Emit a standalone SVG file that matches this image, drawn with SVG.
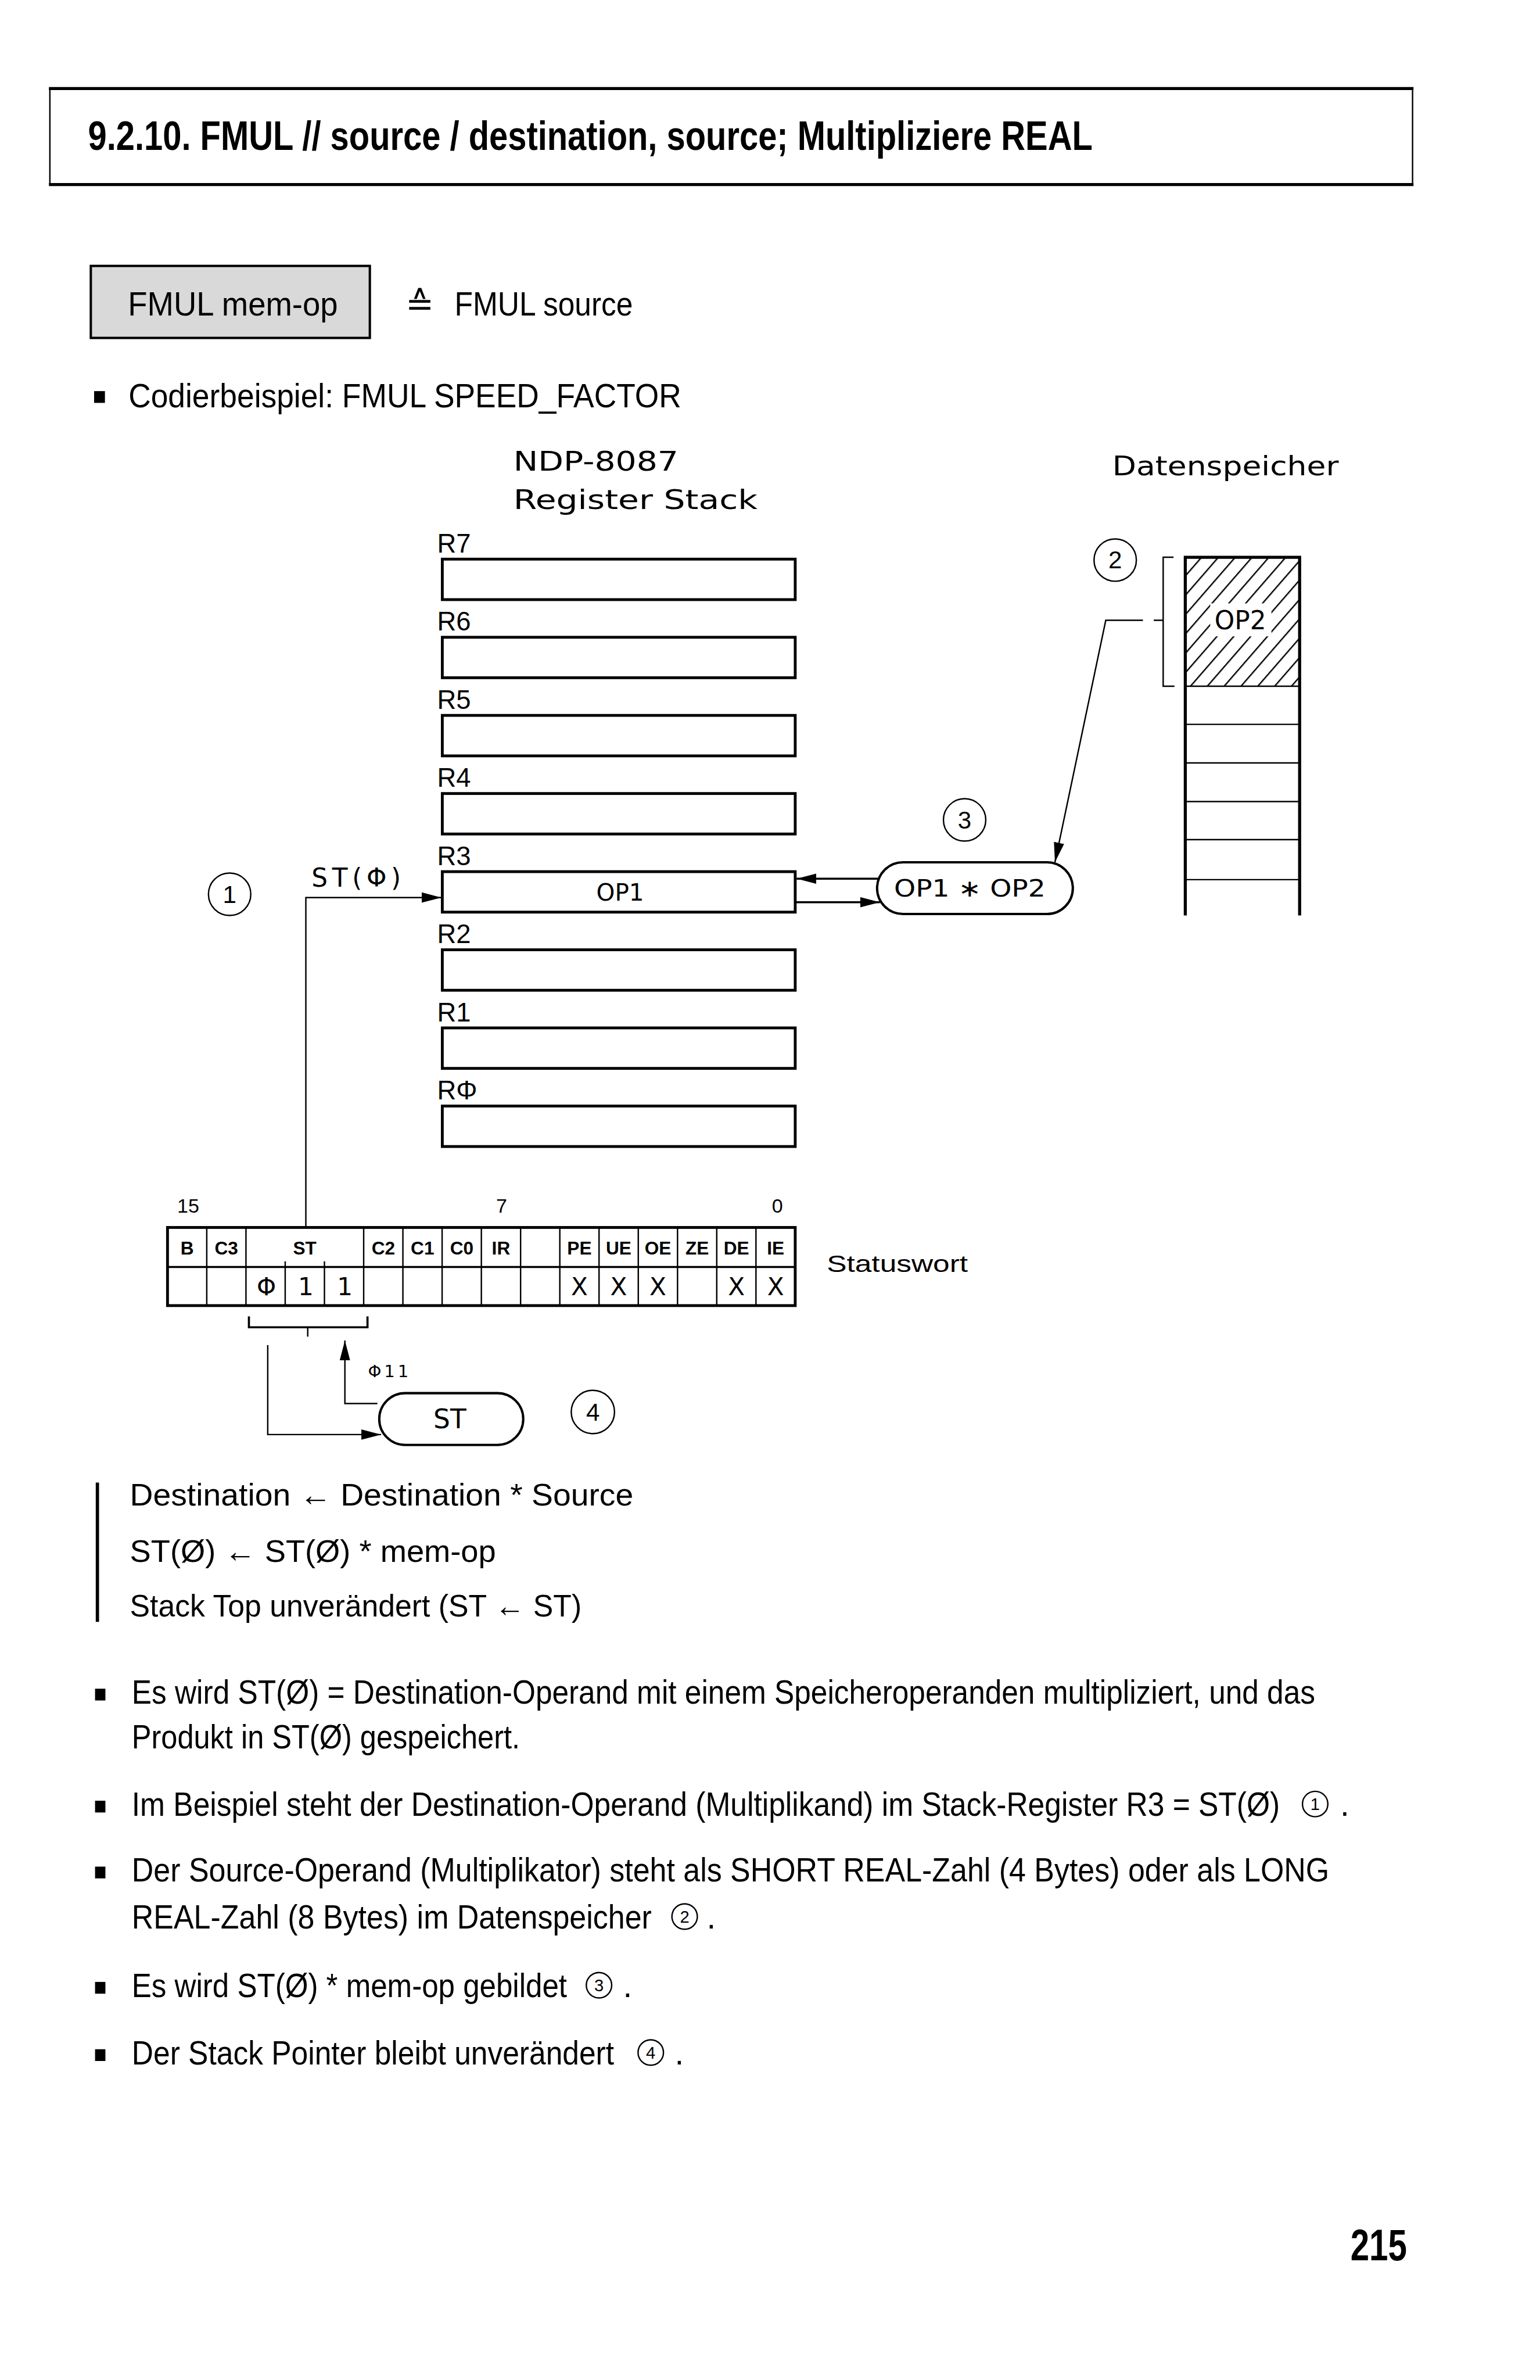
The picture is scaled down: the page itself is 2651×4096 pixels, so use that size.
<svg xmlns="http://www.w3.org/2000/svg" width="2651" height="4096" viewBox="0 0 2651 4096">
<defs>
<style>
.b{font-family:"Liberation Sans",Arial,sans-serif;fill:#000}
.d{font-family:"DejaVu Sans","Liberation Sans",sans-serif;fill:#000}
.ln{fill:none;stroke:#000;stroke-width:3}
.lm{fill:none;stroke:#000;stroke-width:4.5}
.lt{fill:none;stroke:#000;stroke-width:6.5}
.box{fill:#fff;stroke:#000;stroke-width:6}
.mid{text-anchor:middle}
.ring{fill:none;stroke:#000;stroke-width:3}
</style>
<marker id="ah" markerUnits="userSpaceOnUse" markerWidth="44" markerHeight="24" refX="42" refY="12" orient="auto">
<path d="M0,1 L42,12 L0,23 z" fill="#000"/>
</marker>
<pattern id="hatch" patternUnits="userSpaceOnUse" width="27" height="20" patternTransform="rotate(41)">
<line x1="4" y1="0" x2="4" y2="20" stroke="#000" stroke-width="3"/>
</pattern>
</defs>
<rect x="0" y="0" width="2651" height="4096" fill="#fff"/>
<g transform="scale(0.81)">

<g id="title">
<path class="lt" d="M104,188 H3004 M104,392 H3004"/>
<path class="ln" d="M106,188 V392 M3002,188 V392"/>
<text class="b" x="187" y="318" font-size="86" font-weight="bold" textLength="2135" lengthAdjust="spacingAndGlyphs">9.2.10. FMUL // source / destination, source; Multipliziere REAL</text>
</g>

<g id="instr">
<rect x="193" y="565" width="593" height="153" fill="#d9d9d9" stroke="#000" stroke-width="5"/>
<text class="b" x="272" y="670" font-size="70" textLength="446" lengthAdjust="spacingAndGlyphs">FMUL mem-op</text>
<text class="d" x="862" y="670" font-size="72">≙</text>
<text class="b" x="966" y="670" font-size="70" textLength="379" lengthAdjust="spacingAndGlyphs">FMUL source</text>
</g>

<g id="example">
<rect x="200" y="831" width="23" height="25" fill="#000"/>
<text class="b" x="273" y="866" font-size="70" textLength="1175" lengthAdjust="spacingAndGlyphs">Codierbeispiel:  FMUL SPEED_FACTOR</text>
</g>

<g id="stack-title">
<text class="d" x="1091" y="1000" font-size="58" textLength="351" lengthAdjust="spacingAndGlyphs">NDP-8087</text>
<text class="d" x="1091" y="1082" font-size="58" textLength="519" lengthAdjust="spacingAndGlyphs">Register Stack</text>
</g>

<g id="mem-title">
<text class="d" x="2364" y="1010" font-size="58" textLength="481" lengthAdjust="spacingAndGlyphs">Datenspeicher</text>
</g>

<g id="R7"><text class="b" x="929" y="1174" font-size="56">R7</text><rect class="box" x="940" y="1188" width="750" height="86"/></g>
<g id="R6"><text class="b" x="929" y="1340" font-size="56">R6</text><rect class="box" x="940" y="1354" width="750" height="86"/></g>
<g id="R5"><text class="b" x="929" y="1506" font-size="56">R5</text><rect class="box" x="940" y="1520" width="750" height="86"/></g>
<g id="R4"><text class="b" x="929" y="1672" font-size="56">R4</text><rect class="box" x="940" y="1686" width="750" height="86"/></g>
<g id="R3"><text class="b" x="929" y="1838" font-size="56">R3</text><rect class="box" x="940" y="1852" width="750" height="86"/>
<text class="d mid" x="1318" y="1913" font-size="50">OP1</text></g>
<g id="R2"><text class="b" x="929" y="2004" font-size="56">R2</text><rect class="box" x="940" y="2018" width="750" height="86"/></g>
<g id="R1"><text class="b" x="929" y="2170" font-size="56">R1</text><rect class="box" x="940" y="2184" width="750" height="86"/></g>
<g id="R0"><text class="b" x="929" y="2336" font-size="56">RΦ</text><rect class="box" x="940" y="2350" width="750" height="86"/></g>

<g id="st0-label">
<text class="d" x="662" y="1884" font-size="54" textLength="190" lengthAdjust="spacing">ST(Φ)</text>
</g>

<g id="opmul">
<rect x="1864" y="1832" width="416" height="110" rx="55" ry="55" fill="#fff" stroke="#000" stroke-width="5"/>
<text class="d" x="1900" y="1905" font-size="50" textLength="322" lengthAdjust="spacingAndGlyphs">OP1 ∗ OP2</text>
</g>

<g id="memory">
<rect x="2519" y="1184" width="243" height="274" fill="url(#hatch)"/>
<rect x="2572" y="1282" width="130" height="70" fill="#fff"/>
<text class="d mid" x="2636" y="1337" font-size="54">OP2</text>
<path class="lt" d="M2519,1184 H2762 M2519,1181 V1945 M2762,1181 V1945"/>
<path class="ln" d="M2519,1458 H2762 M2519,1539 H2762 M2519,1621 H2762 M2519,1703 H2762 M2519,1784 H2762 M2519,1869 H2762"/>
<path class="ln" d="M2494,1184 H2472 V1458 H2496 M2452,1318 H2472"/>
</g>

<g id="c1"><circle cx="488" cy="1900" r="45" class="ring"/><text class="b mid" x="488" y="1918" font-size="52">1</text></g>
<g id="c2"><circle cx="2370" cy="1190" r="45" class="ring"/><text class="b mid" x="2370" y="1208" font-size="52">2</text></g>
<g id="c3"><circle cx="2050" cy="1742" r="45" class="ring"/><text class="b mid" x="2050" y="1760" font-size="52">3</text></g>
<g id="c4"><circle cx="1260" cy="3000" r="46" class="ring"/><text class="b mid" x="1260" y="3018" font-size="52">4</text></g>

<g id="statuswort">
<text class="b mid" x="400" y="2576" font-size="42">15</text>
<text class="b mid" x="1066" y="2576" font-size="42">7</text>
<text class="b mid" x="1652" y="2576" font-size="42">0</text>
<rect x="356" y="2608" width="1334" height="166" fill="#fff" stroke="#000" stroke-width="6"/>
<path class="lm" d="M356,2692 H1690"/>
<path class="ln" d="M439.4,2608 V2774 M522.75,2608 V2774 M606.1,2680 V2774 M689.5,2680 V2774 M772.9,2608 V2774 M856.25,2608 V2774 M939.6,2608 V2774 M1023,2608 V2774 M1106.4,2608 V2774 M1189.75,2608 V2774 M1273.1,2608 V2774 M1356.5,2608 V2774 M1439.9,2608 V2774 M1523.25,2608 V2774 M1606.6,2608 V2774"/>
<g class="b mid" font-size="39" font-weight="bold">
<text x="397.7" y="2665">B</text><text x="481.1" y="2665">C3</text><text x="647.8" y="2665">ST</text>
<text x="814.6" y="2665">C2</text><text x="897.9" y="2665">C1</text><text x="981.3" y="2665">C0</text><text x="1064.7" y="2665">IR</text>
<text x="1231.4" y="2665">PE</text><text x="1314.8" y="2665">UE</text><text x="1398.2" y="2665">OE</text><text x="1481.6" y="2665">ZE</text><text x="1564.9" y="2665">DE</text><text x="1648.3" y="2665">IE</text>
</g>
<g class="d mid" font-size="52">
<text x="566" y="2752">Φ</text><text x="650" y="2752">1</text><text x="733" y="2752">1</text>
<text x="1231.4" y="2752">X</text><text x="1314.8" y="2752">X</text><text x="1398.2" y="2752">X</text><text x="1564.9" y="2752">X</text><text x="1648.3" y="2752">X</text>
</g>
<text class="b" x="1757" y="2702" font-size="50" textLength="300" lengthAdjust="spacingAndGlyphs">Statuswort</text>
</g>

<g id="st-pointer">
<rect x="806" y="2960" width="306" height="110" rx="55" ry="55" fill="#fff" stroke="#000" stroke-width="5"/>
<text class="d mid" x="956" y="3034" font-size="56">ST</text>
<text class="d" x="782" y="2926" font-size="36" letter-spacing="6">Φ11</text>
</g>

<g id="connectors">
<path class="ln" d="M650,2606 V1907 H938" marker-end="url(#ah)"/>
<path class="lm" d="M1866,1867 H1693" marker-end="url(#ah)"/>
<path class="lm" d="M1692,1917 H1870" marker-end="url(#ah)"/>
<path class="ln" d="M2429,1318 H2350 L2242,1832" marker-end="url(#ah)"/>
<path class="lm" d="M529,2797 V2820 H781 V2797"/>
<path class="ln" d="M654,2820 V2840"/>
<path class="ln" d="M569,2858 V3048 H810" marker-end="url(#ah)"/>
<path class="ln" d="M802,2982 H733 V2848" marker-end="url(#ah)"/>
</g>

<g id="formula">
<path d="M207,3150 V3446" stroke="#000" stroke-width="7"/>
<text class="b" x="276" y="3199" font-size="66" textLength="1070" lengthAdjust="spacingAndGlyphs">Destination ← Destination * Source</text>
<text class="b" x="276" y="3318" font-size="66" textLength="778" lengthAdjust="spacingAndGlyphs">ST(Ø) ← ST(Ø) * mem-op</text>
<text class="b" x="276" y="3434" font-size="66" textLength="960" lengthAdjust="spacingAndGlyphs">Stack Top unverändert  (ST ← ST)</text>
</g>

<g id="bullets">
<rect x="202" y="3588" width="22" height="25" fill="#000"/>
<text class="b" x="280" y="3620" font-size="70" textLength="2515" lengthAdjust="spacingAndGlyphs">Es wird ST(Ø) = Destination-Operand mit einem Speicheroperanden multipliziert, und das</text>
<text class="b" x="280" y="3715" font-size="70" textLength="825" lengthAdjust="spacingAndGlyphs">Produkt in ST(Ø) gespeichert.</text>

<rect x="202" y="3826" width="22" height="25" fill="#000"/>
<text class="b" transform="translate(280,3858) scale(1,1.1)" x="0" y="0" font-size="63.5" textLength="2440" lengthAdjust="spacingAndGlyphs">Im Beispiel steht der Destination-Operand (Multiplikand) im Stack-Register R3 = ST(Ø)</text>
<circle cx="2795" cy="3833" r="27" class="ring"/><text class="b mid" x="2795" y="3846" font-size="36">1</text>
<text class="b" x="2848" y="3858" font-size="70">.</text>

<rect x="202" y="3966" width="22" height="25" fill="#000"/>
<text class="b" x="280" y="3998" font-size="70" textLength="2545" lengthAdjust="spacingAndGlyphs">Der Source-Operand (Multiplikator) steht als SHORT REAL-Zahl (4 Bytes) oder als LONG</text>
<text class="b" transform="translate(280,4097) scale(1,1.1)" x="0" y="0" font-size="63.5" textLength="1105" lengthAdjust="spacingAndGlyphs">REAL-Zahl (8 Bytes) im Datenspeicher</text>
<circle cx="1455" cy="4072" r="27" class="ring"/><text class="b mid" x="1455" y="4085" font-size="36">2</text>
<text class="b" x="1502" y="4097" font-size="70">.</text>

<rect x="202" y="4211" width="22" height="25" fill="#000"/>
<text class="b" transform="translate(280,4243) scale(1,1.1)" x="0" y="0" font-size="63.5" textLength="925" lengthAdjust="spacingAndGlyphs">Es wird ST(Ø) * mem-op gebildet</text>
<circle cx="1273" cy="4218" r="27" class="ring"/><text class="b mid" x="1273" y="4231" font-size="36">3</text>
<text class="b" x="1324" y="4243" font-size="70">.</text>

<rect x="202" y="4354" width="22" height="25" fill="#000"/>
<text class="b" transform="translate(280,4386) scale(1,1.1)" x="0" y="0" font-size="63.5" textLength="1025" lengthAdjust="spacingAndGlyphs">Der Stack Pointer bleibt unverändert</text>
<circle cx="1383" cy="4361" r="27" class="ring"/><text class="b mid" x="1383" y="4374" font-size="36">4</text>
<text class="b" x="1434" y="4386" font-size="70">.</text>
</g>

<g id="pagenum">
<text class="b" x="2870" y="4802" font-size="94" font-weight="bold" textLength="120" lengthAdjust="spacingAndGlyphs">215</text>
</g>
</g>
</svg>
